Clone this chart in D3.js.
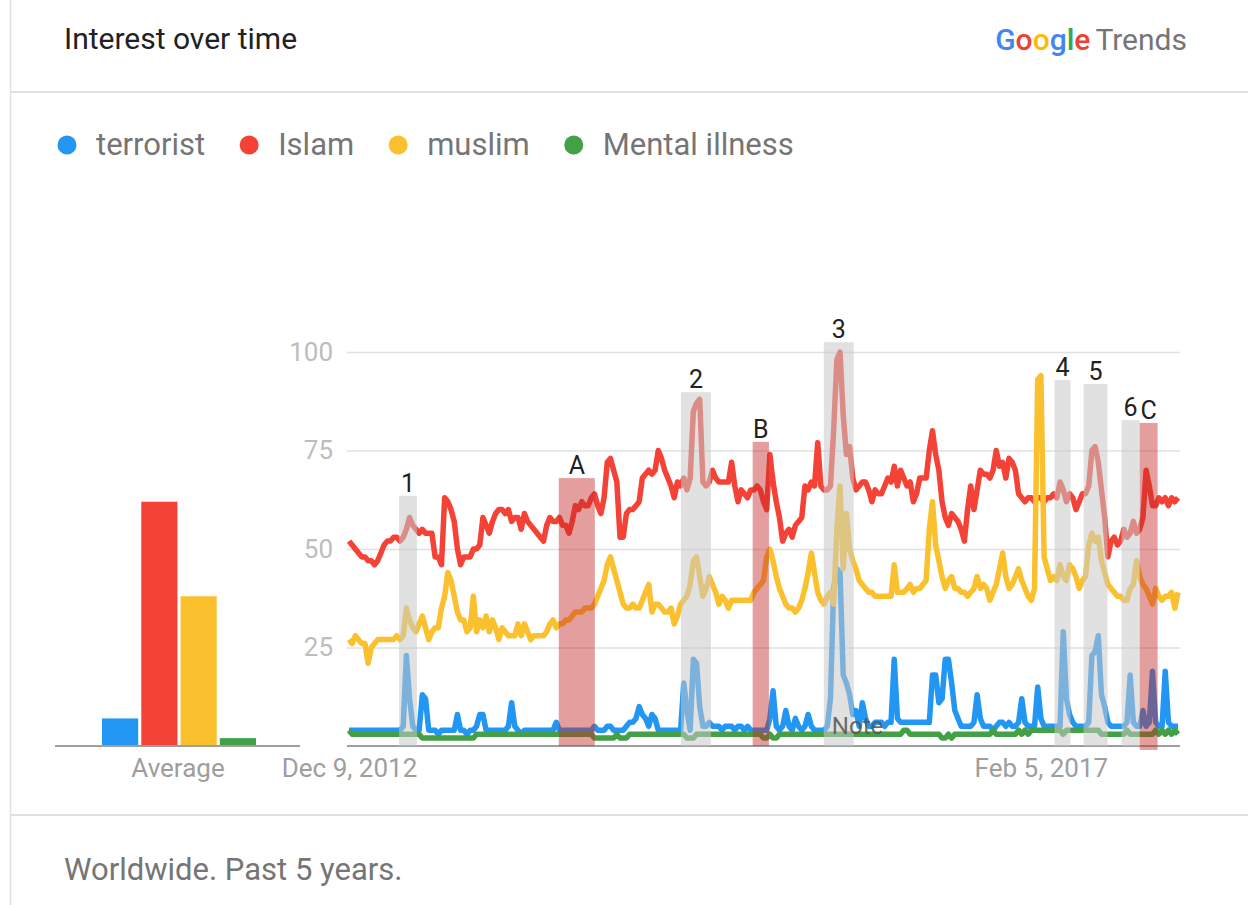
<!DOCTYPE html>
<html>
<head>
<meta charset="utf-8">
<script src="https://cdn.jsdelivr.net/npm/d3@7"></script>
<style>
  body { margin: 0; background: #fff; font-family: Roboto, "Noto Sans", sans-serif; }
</style>
</head>
<body>
<div id="chart"></div>
<script>
'use strict';

// search terms, colours and their 5-year averages
const terms = ["terrorist", "Islam", "muslim", "Mental illness"];
const colors = ["#2196f3", "#f44336", "#fbc02d", "#43a047"];
const averages = [7, 62, 38, 2];

// weekly data, first week Dec 9, 2012
const startDate = new Date(2012, 11, 9);

const terrorist = [
  4,4,4,4,4,4,4,4,4,4, 4,4,4,4,4,4,4,5,23,12, 5,4,4,13,12,4,4,4,3,4, 4,4,4,4,8,4,4,3,4,4,
  5,8,8,4,4,4,4,4,4,4, 5,11,5,4,3,4,4,4,4,4, 4,4,4,4,4,6,4,4,4,4, 4,4,4,4,4,4,4,5,4,4,
  4,5,5,4,4,4,4,5,6,6, 7,10,8,7,5,8,7,4,4,4, 4,4,4,4,4,16,9,4,22,21, 10,5,5,6,5,5,5,4,5,5,
  5,4,5,5,4,5,4,4,4,4, 4,4,7,14,5,4,5,9,5,4, 7,5,4,5,8,5,4,4,4,4, 5,12,40,45,44,18,16,13,8,9,
  5,11,7,5,5,6,6,6,5,6, 6,22,7,6,6,6,6,6,6,6, 6,6,6,18,18,11,12,22,22,16, 9,7,5,5,5,5,6,13,7,5,
  5,5,4,5,6,6,5,6,5,5, 6,12,6,5,5,5,15,7,5,5, 5,5,5,5,29,12,8,6,5,5, 5,5,6,23,24,28,13,10,6,5,
  5,5,5,5,6,18,6,5,5,9, 5,6,19,6,5,5,19,6,5,5,5
];

const islam = [
  52,51,50,49,48,48,47,47,46,47, 49,51,52,52,53,53,52,53,55,58, 56,55,54,55,54,54,54,48,48,46,
  63,62,60,57,50,46,48,48,48,50, 50,51,58,56,54,57,59,60,60,59, 60,57,58,58,55,59,57,56,55,54,
  53,52,56,58,57,57,58,56,56,54, 57,61,60,62,61,61,63,64,61,59, 63,72,73,70,67,53,53,59,60,60,
  61,62,68,69,70,69,70,75,73,70, 68,66,63,67,66,68,65,68,85,87, 88,67,66,67,70,68,67,67,67,67,
  72,66,62,65,64,63,65,65,66,65, 62,60,74,67,62,58,52,54,55,53, 56,57,58,66,65,67,66,77,66,65,
  65,66,80,98,100,84,74,76,68,65, 66,67,67,65,62,65,64,64,66,68, 67,71,66,70,68,66,67,62,64,68,
  68,68,75,80,74,70,62,58,56,59, 58,57,55,52,60,66,60,65,70,69, 69,68,70,75,71,72,68,73,72,70,
  64,63,62,63,63,62,63,63,62,63, 63,64,63,67,65,62,64,63,60,62, 64,64,66,75,76,72,65,58,48,52,
  53,51,52,55,53,54,57,54,55,58, 70,66,61,61,63,62,63,61,63,62,63
];

const muslim = [
  27,26,28,27,26,26,21,25,26,27, 27,27,27,27,27,28,27,28,35,32, 30,29,31,33,30,27,29,30,30,35,
  38,44,42,38,34,32,32,29,30,38, 29,32,30,33,29,32,30,27,30,29, 28,28,28,31,28,31,29,27,28,28,
  28,28,29,31,32,30,31,31,32,32, 33,34,34,34,35,35,35,36,38,40, 42,46,48,45,42,39,36,35,35,36,
  35,35,37,39,41,34,36,36,35,34, 34,35,31,33,36,37,38,41,47,48, 43,38,40,43,41,39,36,38,37,35,
  37,37,37,37,37,37,37,39,40,41, 42,48,50,47,43,40,38,36,35,35, 34,35,37,40,44,49,44,39,37,36,
  38,39,36,55,66,45,59,50,47,45, 42,41,40,39,39,38,38,38,38,38, 38,46,39,39,39,40,41,39,40,40,
  41,42,55,62,51,47,43,40,42,43, 40,40,39,39,38,39,40,43,40,41, 40,37,39,41,45,49,43,40,41,43,
  45,42,40,38,37,40,93,94,48,45, 42,43,42,46,43,42,46,45,43,40, 42,43,51,54,52,53,47,44,41,40,
  39,38,38,37,37,40,41,47,43,41, 40,38,36,40,38,37,38,38,39,35,39
];

const mentalIllness = [
  4,3,3,3,3,3,3,3,3,3, 3,3,3,3,3,3,3,3,3,3, 3,3,3,2,2,2,2,2,2,2, 2,2,2,2,2,2,2,2,2,2,
  3,3,3,3,3,3,3,3,3,3, 3,3,3,3,3,3,3,3,3,3, 3,3,3,3,3,3,3,3,3,3, 3,3,3,3,3,3,3,2,2,2,
  2,2,2,2,3,2,2,2,3,3, 3,3,3,3,3,3,3,3,3,3, 3,3,3,3,3,3,2,2,2,3, 3,3,3,3,3,3,3,3,3,3,
  3,3,3,3,3,3,3,3,3,3, 2,2,3,2,2,3,3,3,3,3, 3,3,3,3,3,3,3,3,3,3, 3,3,3,3,3,3,3,3,3,3,
  3,3,3,3,3,3,3,3,3,3, 3,3,3,3,4,4,3,3,3,3, 3,3,3,3,3,3,2,2,3,2, 3,3,3,3,3,3,3,3,3,3,
  3,3,4,3,3,3,3,3,3,3, 4,3,4,3,4,4,4,4,4,4, 4,4,4,4,3,4,4,4,4,4, 4,4,4,4,4,4,3,3,3,3,
  3,3,3,3,4,3,3,3,3,3, 3,3,3,4,3,4,3,4,3,4,3
];

const series = [terrorist, islam, muslim, mentalIllness];

// news annotations (week offsets from start, height in chart units)
const annLabels = ["1", "A", "2", "B", "3", "4", "5", "6", "C"];
const annFrom   = [15.7, 65.8, 104.1, 126.6, 148.9, 221.3, 230.4, 242.3, 248.0];
const annTo     = [21.3, 77.1, 113.5, 131.7, 158.3, 226.3, 237.9, 248.0, 253.6];
const annTop    = [63.5, 68, 89.8, 77.2, 102.5, 92.9, 91.9, 82.7, 82];
const annKind   = ["gray", "red", "gray", "red", "gray", "gray", "gray", "gray", "red"];

const yTicks = [25, 50, 75, 100];
const xTickWeeks = [0, 217];

function weekDate(w) {
  return d3.timeHour.offset(startDate, Math.round(w * 7 * 24));
}

const width = 1248, height = 905;

let svg = d3.select("#chart")
  .append("svg")
    .attr("width", width)
    .attr("height", height);

// card frame
svg.append("line").attr("x1", 10.5).attr("x2", 10.5).attr("y1", 0).attr("y2", height)
  .style("stroke", "#e0e0e0").style("stroke-width", 1.5);
svg.append("line").attr("x1", 10).attr("x2", width).attr("y1", 92).attr("y2", 92)
  .style("stroke", "#e0e0e0").style("stroke-width", 2);
svg.append("line").attr("x1", 10).attr("x2", width).attr("y1", 815).attr("y2", 815)
  .style("stroke", "#e0e0e0").style("stroke-width", 2);

// header
svg.append("text")
  .attr("x", 64).attr("y", 49)
  .style("font-size", "30px").style("fill", "#212121")
  .text("Interest over time");

let logo = svg.append("text")
  .attr("x", 1187).attr("y", 50)
  .attr("text-anchor", "end")
  .style("font-size", "30px");
const gLetters = ["G", "o", "o", "g", "l", "e"];
const gColors = ["#4285f4", "#ea4335", "#fbbc05", "#4285f4", "#34a853", "#ea4335"];
gLetters.forEach((l, i) => logo.append("tspan").style("fill", gColors[i]).style("font-weight", 500).text(l));
logo.append("tspan").attr("dx", 5).style("fill", "#757575").text("Trends");

// legend
let lx = 67;
terms.forEach((t, i) => {
  svg.append("circle").attr("cx", lx).attr("cy", 145).attr("r", 9.5).style("fill", colors[i]);
  let txt = svg.append("text")
    .attr("x", lx + 29).attr("y", 155)
    .style("font-size", "31px").style("fill", "#757575")
    .text(t);
  lx = lx + 29 + txt.node().getComputedTextLength() + 44;
});

// scales
let y = d3.scaleLinear().domain([0, 100]).range([746, 352]);
let x = d3.scaleTime().domain([weekDate(0), weekDate(260)]).range([349, 1178]);
let xBar = d3.scaleBand().domain(terms).range([102, 256]).paddingInner(0.08).paddingOuter(0);

// average bars
svg.selectAll(".avg")
  .data(averages)
  .enter()
  .append("rect")
    .attr("class", "avg")
    .attr("x", (d, i) => xBar(terms[i]))
    .attr("y", d => y(d))
    .attr("width", xBar.bandwidth())
    .attr("height", d => y(0) - y(d))
    .style("fill", (d, i) => colors[i]);

svg.append("line").attr("x1", 55).attr("x2", 300).attr("y1", 746).attr("y2", 746)
  .style("stroke", "#9e9e9e").style("stroke-width", 2);
svg.append("text")
  .attr("x", 178).attr("y", 777)
  .attr("text-anchor", "middle")
  .style("font-size", "26px").style("fill", "#9e9e9e")
  .text("Average");

// grid + y labels
let yAxis = svg.append("g")
  .attr("transform", "translate(347,0)")
  .call(d3.axisLeft(y).tickValues(yTicks).tickSize(-833).tickPadding(14));
yAxis.select(".domain").remove();
yAxis.selectAll("line").style("stroke", "#e0e0e0").style("stroke-width", 1.5);
yAxis.selectAll("text").style("font-size", "26px").style("fill", "#bdbdbd")
  .style("font-family", "Roboto, sans-serif");

// x labels
let xAxis = svg.append("g")
  .attr("transform", "translate(0,746)")
  .call(d3.axisBottom(x)
    .tickValues(xTickWeeks.map(weekDate))
    .tickFormat(d3.timeFormat("%b %-d, %Y"))
    .tickSize(0).tickPadding(13));
xAxis.select(".domain").remove();
xAxis.selectAll("text").style("font-size", "26px").style("fill", "#9e9e9e")
  .style("font-family", "Roboto, sans-serif");

svg.append("line").attr("x1", 347).attr("x2", 1180).attr("y1", 746).attr("y2", 746)
  .style("stroke", "#9e9e9e").style("stroke-width", 2);

// lines
let line = d3.line()
  .x((d, i) => x(weekDate(i)))
  .y(d => y(d));

svg.selectAll(".trend")
  .data(series)
  .enter()
  .append("path")
    .attr("class", "trend")
    .attr("d", line)
    .style("fill", "none")
    .style("stroke", (d, i) => colors[i])
    .style("stroke-width", 5.5)
    .style("stroke-linejoin", "round");

// annotation bands over the lines
annLabels.forEach((lab, i) => {
  const x0 = x(weekDate(annFrom[i])), x1 = x(weekDate(annTo[i]));
  const isRed = annKind[i] == "red";
  svg.append("rect")
    .attr("x", x0).attr("y", y(annTop[i]))
    .attr("width", x1 - x0)
    .attr("height", y(isRed && lab == "C" ? -1 : 0) - y(annTop[i]))
    .style("fill", isRed ? "#c62828" : "#c8c8c8")
    .style("opacity", isRed ? 0.45 : 0.55);
  svg.append("text")
    .attr("x", (x0 + x1) / 2).attr("y", y(annTop[i]) - 4)
    .attr("text-anchor", "middle")
    .style("font-size", "25px").style("fill", "#212121")
    .text(lab);
});

svg.append("text")
  .attr("x", x(weekDate(159.5))).attr("y", 734)
  .attr("text-anchor", "middle")
  .style("font-size", "24px").style("fill", "#555").style("opacity", 0.85)
  .text("Note");

// footer
svg.append("text")
  .attr("x", 64).attr("y", 880)
  .style("font-size", "31px").style("fill", "#757575")
  .text("Worldwide. Past 5 years.");
</script>
</body>
</html>
